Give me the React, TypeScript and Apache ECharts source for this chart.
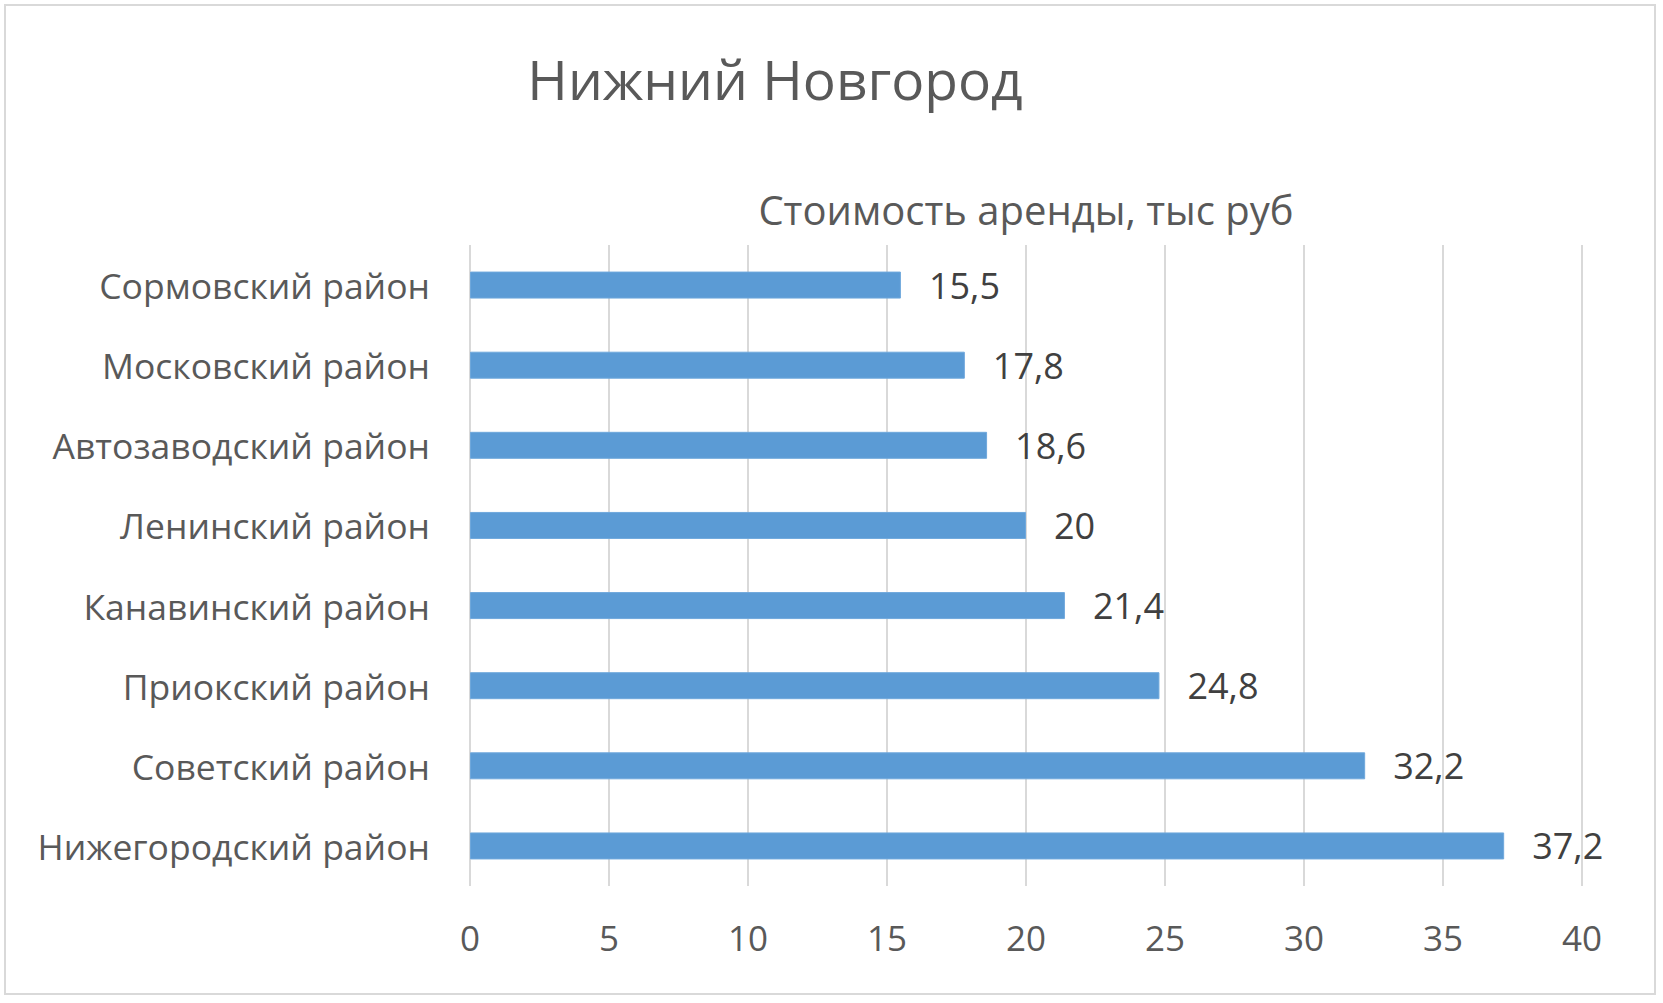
import React, { useEffect, useRef } from "react";
import * as echarts from "echarts";

const categories = [
  "Сормовский район",
  "Московский район",
  "Автозаводский район",
  "Ленинский район",
  "Канавинский район",
  "Приокский район",
  "Советский район",
  "Нижегородский район",
];
const values = [15.5, 17.8, 18.6, 20, 21.4, 24.8, 32.2, 37.2];
const titleText = "Нижний Новгород";
const axisTitleText = "Стоимость аренды, тыс руб";
const xMin = 0;
const xMax = 40;
const xStep = 5;

const FONT = "'Open Sans', 'Noto Sans', sans-serif";

export default function App() {
  const ref = useRef<HTMLDivElement>(null);
  useEffect(() => {
    if (!ref.current) return;
    const chart = echarts.init(ref.current, undefined, { renderer: "svg" });
    chart.setOption({
      animation: false,
      backgroundColor: "#ffffff",
      textStyle: { fontFamily: FONT },
      graphic: [
        {
          type: "rect",
          shape: { x: 5, y: 5, width: 1650, height: 989 },
          style: { fill: "none", stroke: "#D9D9D9", lineWidth: 2 },
          silent: true,
        },
        {
          type: "text",
          x: 775,
          y: 78,
          style: {
            text: titleText,
            fontFamily: FONT,
            fontSize: 55,
            fill: "#595959",
            textAlign: "center",
            textVerticalAlign: "middle",
          },
        },
        {
          type: "text",
          x: 1026,
          y: 209,
          style: {
            text: axisTitleText,
            fontFamily: FONT,
            fontSize: 40,
            fill: "#595959",
            textAlign: "center",
            textVerticalAlign: "middle",
          },
        },
      ],
      grid: { left: 470, top: 245, width: 1112, height: 641, containLabel: false },
      xAxis: {
        type: "value",
        min: xMin,
        max: xMax,
        interval: xStep,
        axisLine: { show: false },
        axisTick: { show: false },
        splitLine: { show: true, lineStyle: { color: "#D9D9D9", width: 2 } },
        axisLabel: {
          color: "#595959",
          fontSize: 35,
          fontFamily: FONT,
          margin: 34,
        },
      },
      yAxis: {
        type: "category",
        data: categories,
        inverse: true,
        axisLine: { show: false },
        axisTick: { show: false },
        axisLabel: {
          color: "#595959",
          fontSize: 35.5,
          fontFamily: FONT,
          margin: 40,
          padding: [0, 0, 10, 0],
        },
      },
      series: [
        {
          type: "bar",
          data: values,
          barWidth: 27,
          itemStyle: { color: "#5B9BD5", borderColor: "#6FA8DC", borderWidth: 1 },
          label: {
            show: true,
            position: "right",
            distance: 28,
            color: "#404040",
            fontSize: 36,
            fontFamily: FONT,
            formatter: (p: any) => String(p.value).replace(".", ","),
          },
        },
      ],
    });
    return () => chart.dispose();
  }, []);
  return (
    <div
      ref={ref}
      style={{ position: "fixed", left: 0, top: 0, width: 1663, height: 1003 }}
    />
  );
}
